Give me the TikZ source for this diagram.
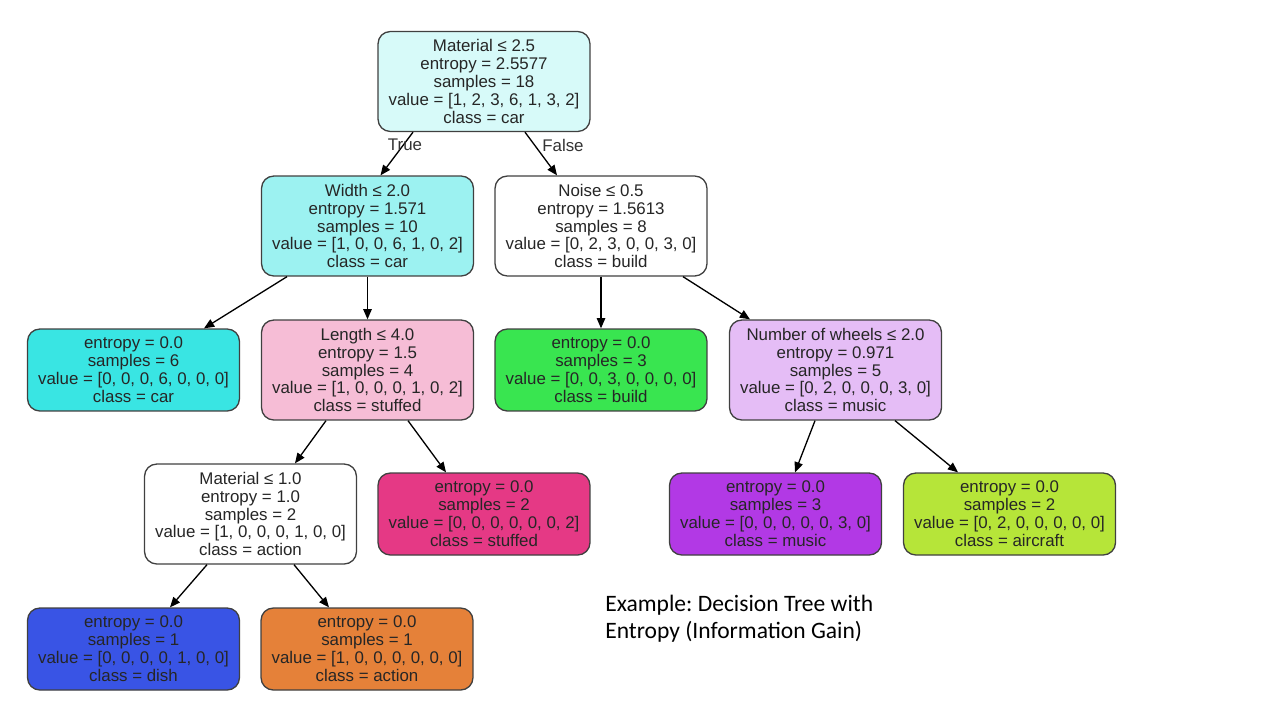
\documentclass[tikz,border=0pt]{standalone}
\usepackage{fontspec}
\setmainfont{Liberation Sans}
\newfontfamily\captionfont{Carlito}
\usepackage{tikz}
\usetikzlibrary{arrows.meta}
\frenchspacing

\definecolor{cRoot}{RGB}{215,250,249}
\definecolor{cWidth}{RGB}{156,242,241}
\definecolor{cCar}{RGB}{57,229,227}
\definecolor{cLength}{RGB}{246,189,214}
\definecolor{cStuffed}{RGB}{229,57,133}
\definecolor{cBuild}{RGB}{57,229,80}
\definecolor{cWheels}{RGB}{229,189,246}
\definecolor{cMusic}{RGB}{178,57,229}
\definecolor{cAircraft}{RGB}{182,229,57}
\definecolor{cDish}{RGB}{57,84,229}
\definecolor{cAction}{RGB}{229,129,57}

\begin{document}
\begin{tikzpicture}[x=0.02cm,y=-0.02cm,
    box/.style={draw=black!75, line width=0.75pt, rounded corners=7pt, align=center,
        minimum width=4.24cm, inner sep=0pt, text=black!85,
        font=\fontsize{9.6}{10.2}\selectfont},
    split/.style={box, minimum height=2cm},
    leaf/.style={box, minimum height=1.64cm},
    edge/.style={line width=0.75pt, -{Triangle[length=5.8pt,width=4.8pt]}},
    tag/.style={text=black!80, font=\fontsize{9.6}{10.2}\selectfont}]
    \useasboundingbox (0,0) rectangle (1280,720);

    \node[split, fill=cRoot] (N0) at (484,81.5) {Material ≤ 2.5\\entropy = 2.5577\\samples = 18\\value = [1, 2, 3, 6, 1, 3, 2]\\class = car}; % root
    \node[split, fill=cWidth] (N1) at (367.5,226) {Width ≤ 2.0\\entropy = 1.571\\samples = 10\\value = [1, 0, 0, 6, 1, 0, 2]\\class = car};
    \node[split, fill=white] (N2) at (601,226) {Noise ≤ 0.5\\entropy = 1.5613\\samples = 8\\value = [0, 2, 3, 0, 0, 3, 0]\\class = build};
    \node[leaf, fill=cCar] (N3) at (133.5,370) {entropy = 0.0\\samples = 6\\value = [0, 0, 0, 6, 0, 0, 0]\\class = car};
    \node[split, fill=cLength] (N4) at (367.5,370) {Length ≤ 4.0\\entropy = 1.5\\samples = 4\\value = [1, 0, 0, 0, 1, 0, 2]\\class = stuffed};
    \node[leaf, fill=cBuild] (N5) at (601,370) {entropy = 0.0\\samples = 3\\value = [0, 0, 3, 0, 0, 0, 0]\\class = build};
    \node[split, fill=cWheels] (N6) at (835.5,370) {Number of wheels ≤ 2.0\\entropy = 0.971\\samples = 5\\value = [0, 2, 0, 0, 0, 3, 0]\\class = music};
    \node[split, fill=white] (N7) at (250.5,514) {Material ≤ 1.0\\entropy = 1.0\\samples = 2\\value = [1, 0, 0, 0, 1, 0, 0]\\class = action};
    \node[leaf, fill=cStuffed] (N8) at (484,514) {entropy = 0.0\\samples = 2\\value = [0, 0, 0, 0, 0, 0, 2]\\class = stuffed};
    \node[leaf, fill=cMusic] (N9) at (775.5,514) {entropy = 0.0\\samples = 3\\value = [0, 0, 0, 0, 0, 3, 0]\\class = music};
    \node[leaf, fill=cAircraft] (N10) at (1009.5,514) {entropy = 0.0\\samples = 2\\value = [0, 2, 0, 0, 0, 0, 0]\\class = aircraft};
    \node[leaf, fill=cDish] (N11) at (133.5,649) {entropy = 0.0\\samples = 1\\value = [0, 0, 0, 0, 1, 0, 0]\\class = dish};
    \node[leaf, fill=cAction] (N12) at (367,649) {entropy = 0.0\\samples = 1\\value = [1, 0, 0, 0, 0, 0, 0]\\class = action};

    \draw[edge] ([xshift=-1.42cm]N0.south) -- ([xshift=0.26cm]N1.north);
    \draw[edge] ([xshift=0.82cm]N0.south) -- ([xshift=-0.88cm]N2.north);
    \draw[edge] ([xshift=-1.61cm]N1.south) -- ([xshift=1.41cm]N3.north);
    \draw[edge] (N1.south) -- (N4.north);
    \draw[edge] (N2.south) -- (N5.north);
    \draw[edge] ([xshift=1.64cm]N2.south) -- ([xshift=-1.71cm]N6.north);
    \draw[edge] ([xshift=-0.83cm]N4.south) -- ([xshift=0.89cm]N7.north);
    \draw[edge] ([xshift=0.81cm]N4.south) -- ([xshift=-0.76cm]N8.north);
    \draw[edge] ([xshift=-0.41cm]N6.south) -- ([xshift=0.39cm]N9.north);
    \draw[edge] ([xshift=1.19cm]N6.south) -- ([xshift=-1.03cm]N10.north);
    \draw[edge] ([xshift=-0.87cm]N7.south) -- ([xshift=0.73cm]N11.north);
    \draw[edge] ([xshift=0.87cm]N7.south) -- ([xshift=-0.76cm]N12.north);

    \node[tag] (T1) at (405,145) {True};
    \node[tag] (T2) at (563,145) {False};

    % caption
    \node[anchor=base west, align=left, inner sep=0pt,
        font=\captionfont\fontsize{13.4}{15}\selectfont] (C1) at (605,638.2)
        {Example: Decision Tree with\\Entropy (Information Gain)};
\end{tikzpicture}
\end{document}
